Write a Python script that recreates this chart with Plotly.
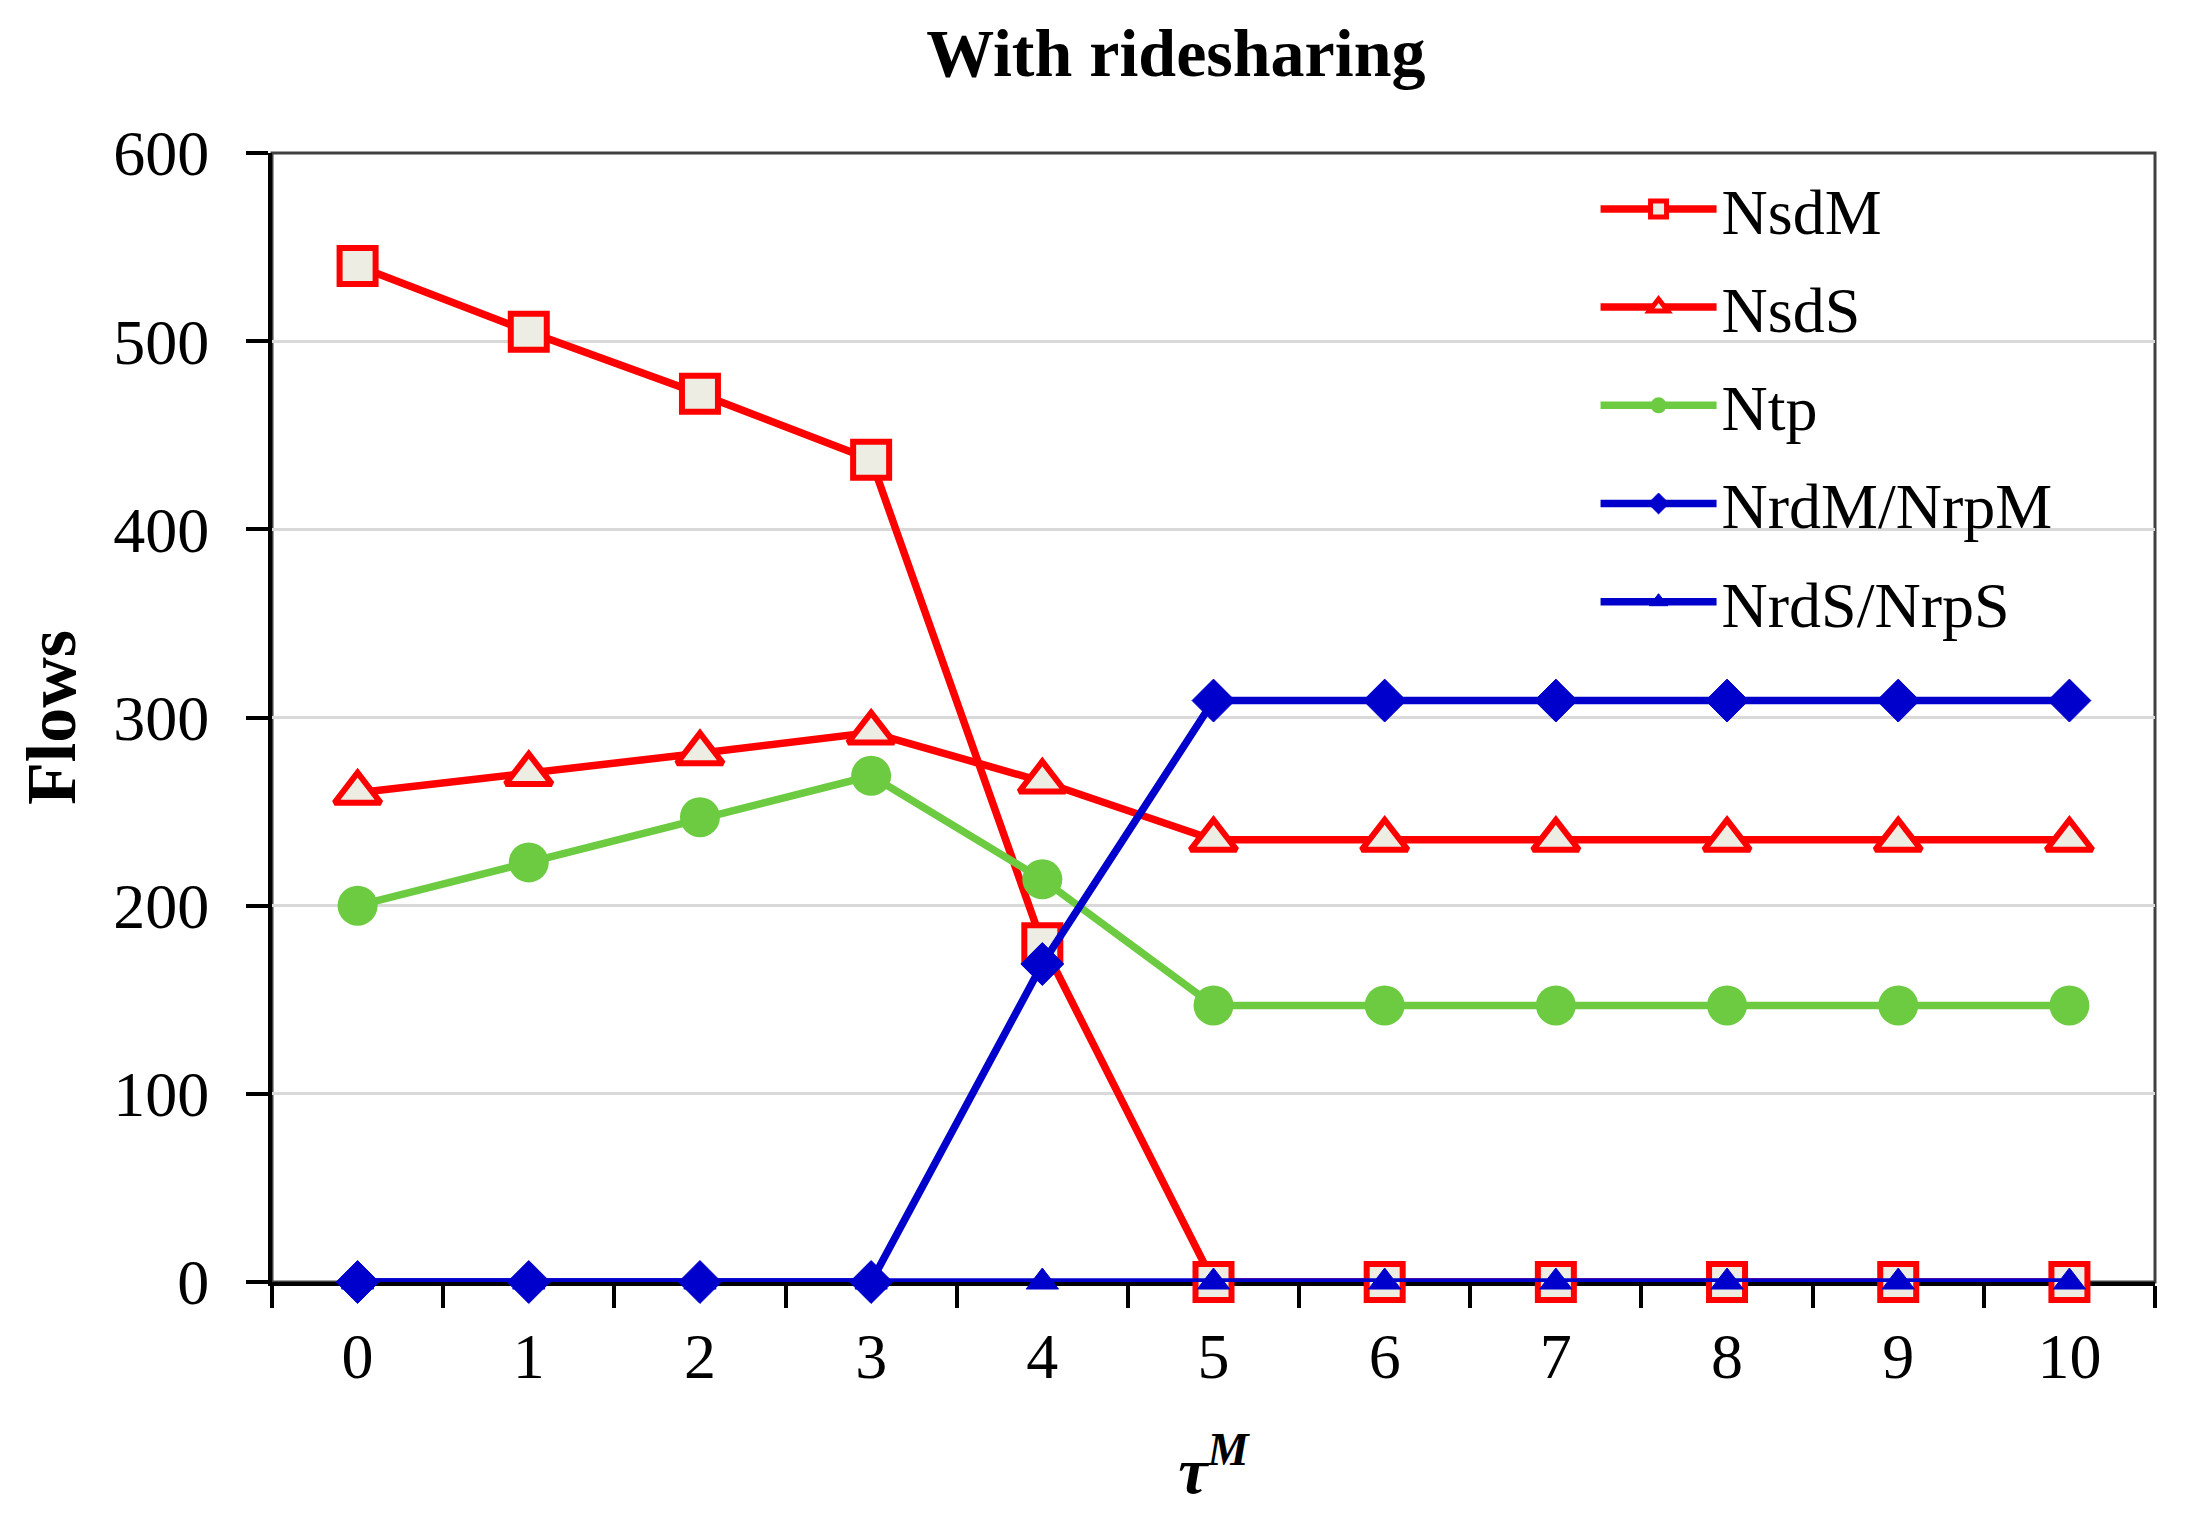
import plotly.graph_objects as go

# ---- data ----
tau_m = [0, 1, 2, 3, 4, 5, 6, 7, 8, 9, 10]
tick_labels = ["0", "1", "2", "3", "4", "5", "6", "7", "8", "9", "10"]
nsdm = [540, 505, 472, 437, 180, 0, 0, 0, 0, 0, 0]
nsds = [260, 270, 281, 292, 266, 235, 235, 235, 235, 235, 235]
ntp = [200, 223, 247, 269, 214, 147, 147, 147, 147, 147, 147]
nrdm = [0, 0, 0, 0, 169, 309, 309, 309, 309, 309, 309]
nrds = [0, 0, 0, 0, 0, 0, 0, 0, 0, 0, 0]
y_ticks = [0, 100, 200, 300, 400, 500, 600]
x_boundaries = [-0.5, 0.5, 1.5, 2.5, 3.5, 4.5, 5.5, 6.5, 7.5, 8.5, 9.5, 10.5]

RED = "#FF0000"
GREEN = "#6CCB40"
BLUE = "#0000CC"
FILL = "#EDEDE3"
FONT = "Liberation Serif"
LW = 7.5

fig = go.Figure()
fig.add_trace(go.Scatter(
    x=tau_m, y=nsdm, name="NsdM", mode="lines+markers",
    line=dict(color=RED, width=LW),
    marker=dict(symbol="square", size=36, color=FILL, line=dict(color=RED, width=6)),
    cliponaxis=False, legendgroup="a"))
fig.add_trace(go.Scatter(
    x=tau_m, y=nsds, name="NsdS", mode="lines+markers",
    line=dict(color=RED, width=LW),
    marker=dict(symbol="triangle-up", size=40, color=FILL, line=dict(color=RED, width=6)),
    cliponaxis=False, legendgroup="b"))
fig.add_trace(go.Scatter(
    x=tau_m, y=ntp, name="Ntp", mode="lines+markers",
    line=dict(color=GREEN, width=LW),
    marker=dict(symbol="circle", size=40, color=GREEN, line=dict(color=GREEN, width=0)),
    cliponaxis=False, legendgroup="c"))
fig.add_trace(go.Scatter(
    x=tau_m, y=nrdm, name="NrdM/NrpM", mode="lines+markers",
    line=dict(color=BLUE, width=LW),
    marker=dict(symbol="diamond", size=33, color=BLUE, line=dict(color=BLUE, width=1)),
    cliponaxis=False, legendgroup="d"))
fig.add_trace(go.Scatter(
    x=tau_m, y=nrds, name="NrdS/NrpS", mode="lines+markers",
    line=dict(color=BLUE, width=LW),
    marker=dict(symbol="triangle-up", size=28, color=BLUE, line=dict(color=BLUE, width=1)),
    cliponaxis=False, legendgroup="e"))

fig.update_layout(
    width=2197, height=1513, autosize=False,
    margin=dict(l=264, r=50, t=145, b=239),
    paper_bgcolor="white", plot_bgcolor="white",
    font=dict(family=FONT, size=64, color="black"),
    title=dict(text="<b>With ridesharing</b>", x=0.480, xref="paper", xanchor="center",
               y=1 - 44 / 1513, yref="container", yanchor="middle",
               font=dict(family=FONT, size=68, color="black")),
    showlegend=True,
    legend=dict(x=0.7029, y=0.9931, xanchor="left", yanchor="top",
                bgcolor="rgba(0,0,0,0)", borderwidth=0,
                font=dict(family=FONT, size=64, color="black"),
                traceorder="grouped", tracegroupgap=12, itemwidth=116),
    shapes=[dict(type="rect", xref="paper", yref="paper", x0=0, x1=1, y0=0, y1=1,
                 line=dict(color="#404040", width=3), layer="below")],
)

fig.update_xaxes(
    range=[-0.5, 10.5], tickmode="array", tickvals=tau_m, ticktext=tick_labels,
    ticks="", showgrid=False, zeroline=False,
    showline=True, linecolor="black", linewidth=4, layer="below traces",
    ticklabelstandoff=15,
    tickfont=dict(family=FONT, size=64, color="black"),
    minor=dict(tickmode="array", tickvals=x_boundaries, ticks="outside",
               ticklen=22, tickwidth=4, tickcolor="black", showgrid=False),
    title=dict(text="<b><i>τ</i><sup><i>M</i></sup></b>", standoff=57,
               font=dict(family=FONT, size=66, color="black")),
)
fig.update_yaxes(
    range=[0, 600], tickmode="array", tickvals=y_ticks,
    ticks="outside", ticklen=22, tickwidth=4, tickcolor="black",
    showgrid=True, gridcolor="#D9D9D9", gridwidth=2.5, zeroline=False,
    showline=True, linecolor="black", linewidth=4, layer="below traces",
    ticklabelstandoff=24,
    tickfont=dict(family=FONT, size=64, color="black"),
    title=dict(text="<b>Flows</b>", standoff=16,
               font=dict(family=FONT, size=70, color="black")),
)

fig.write_html("out.html")
